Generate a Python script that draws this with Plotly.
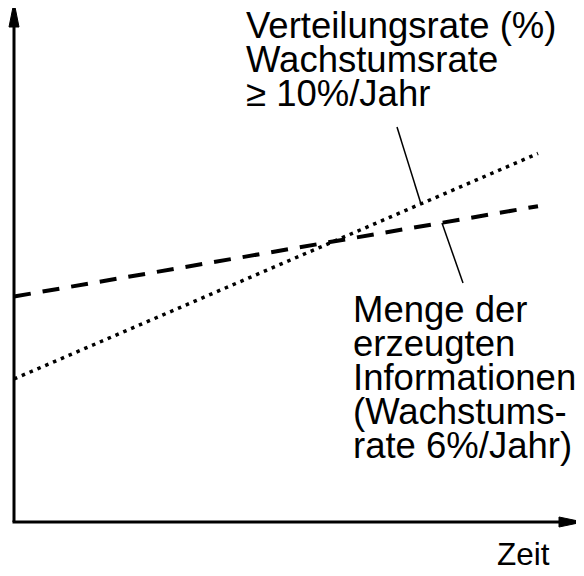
import plotly.graph_objects as go

# ---- data ----
zeit = [0, 10]
menge_informationen = [43.2, 60.5]      # dashed line (6%/Jahr)
verteilungsrate = [27.4, 70.6]          # dotted line (>= 10%/Jahr)

label_verteilung = ["Verteilungsrate (%)", "Wachstumsrate", "≥ 10%/Jahr"]
label_menge = ["Menge der", "erzeugten", "Informationen", "(Wachstums-", "rate 6%/Jahr)"]
label_x = "Zeit"

PAGE = 8                  # page body margin in the browser
W, H = 584 - PAGE, 576 - PAGE
OX, OY = 14, 522          # page-pixel position of the origin
SX = (538 - OX) / 10.0    # px per x unit
SY = (OY - 0) / 100.0     # px per y unit

def px(p):
    return (p - PAGE) / W

def py(p):
    return 1 - (p - PAGE) / H

fig = go.Figure()
fig.add_trace(go.Scatter(x=zeit, y=menge_informationen, mode="lines",
                         line=dict(color="black", width=4, dash="17px,12px"),
                         showlegend=False, hoverinfo="skip"))
fig.add_trace(go.Scatter(x=zeit, y=verteilungsrate, mode="lines",
                         line=dict(color="black", width=3.5, dash="3.5px,5px"),
                         showlegend=False, hoverinfo="skip"))

shapes = []
# axes
shapes.append(dict(type="line", xref="paper", yref="paper",
                   x0=px(OX), y0=py(OY), x1=px(OX), y1=py(26),
                   line=dict(color="black", width=3)))
shapes.append(dict(type="line", xref="paper", yref="paper",
                   x0=px(OX - 1.5), y0=py(OY), x1=px(560), y1=py(OY),
                   line=dict(color="black", width=3)))
# arrowheads
shapes.append(dict(type="path", xref="paper", yref="paper",
                   path=f"M {px(OX-5)} {py(27)} L {px(OX)} {py(2)} L {px(OX+5)} {py(27)} Z",
                   fillcolor="black", line=dict(color="black", width=1)))
shapes.append(dict(type="path", xref="paper", yref="paper",
                   path=f"M {px(559)} {py(OY-5)} L {px(583)} {py(OY)} L {px(559)} {py(OY+5)} Z",
                   fillcolor="black", line=dict(color="black", width=1)))
# leader lines
shapes.append(dict(type="line", xref="paper", yref="paper",
                   x0=px(397), y0=py(127), x1=px(421), y1=py(204),
                   line=dict(color="black", width=1.5)))
shapes.append(dict(type="line", xref="paper", yref="paper",
                   x0=px(442), y0=py(223), x1=px(463), y1=py(283),
                   line=dict(color="black", width=1.5)))

FS = 36.5
FONT = "Liberation Sans, Arial, sans-serif"
annotations = []

def add_lines(lines, left, first_baseline, step, size):
    for i, t in enumerate(lines):
        base = first_baseline + i * step
        annotations.append(dict(text=t, xref="paper", yref="paper",
                                x=px(left), y=py(base - 0.35 * size),
                                xanchor="left", yanchor="middle", showarrow=False,
                                font=dict(family=FONT, size=size, color="black")))

add_lines(label_verteilung, 244, 38, 34, FS)
add_lines(label_menge, 351, 322, 34, FS)
add_lines([label_x], 495, 565, 0, 31.5)

fig.update_layout(
    width=W, height=H,
    margin=dict(l=0, r=0, t=0, b=0),
    paper_bgcolor="white", plot_bgcolor="white",
    xaxis=dict(range=[-(OX - PAGE) / SX, (W + PAGE - OX) / SX], visible=False, fixedrange=True),
    yaxis=dict(range=[-(H + PAGE - OY) / SY, (OY - PAGE) / SY], visible=False, fixedrange=True),
    shapes=shapes, annotations=annotations,
)

fig.write_html("out.html")
